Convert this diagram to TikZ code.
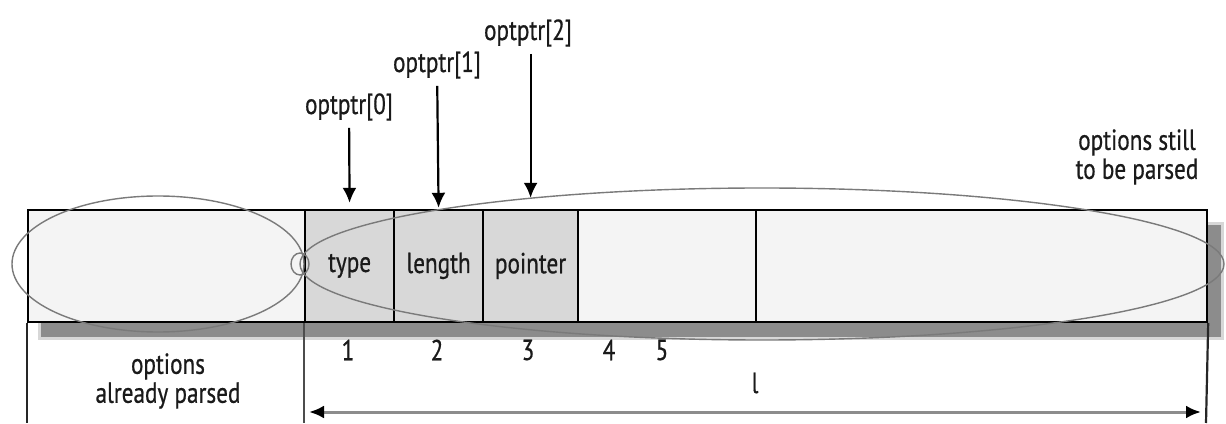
\documentclass[tikz,border=0pt]{standalone}
\usepackage{fontspec}
\setmainfont{PT Sans}[FakeStretch=0.8, FakeBold=0.6]
\usepackage{tikz}
\usetikzlibrary{arrows.meta, positioning, shapes.geometric}
\definecolor{cellgray}{HTML}{D8D8D8}
\definecolor{lightfill}{HTML}{F4F4F4}
\definecolor{ellgray}{HTML}{7A7A7A}
\definecolor{shadegray}{HTML}{8C8C8C}
\definecolor{txt}{HTML}{1A1A1A}

\begin{document}
\begin{tikzpicture}[
    x=1pt, y=1pt,
    font        = \fontsize{29}{29}\selectfont,
    text        = txt,
    cell/.style = {draw, line width=2.2pt, minimum height=112pt,
                   inner sep=0pt, anchor=south west},
    oval/.style = {draw=ellgray, line width=1.4pt, ellipse, inner sep=0pt},
    lbl/.style  = {inner sep=1pt, align=center},
    ptrarr/.style = {-{Latex[length=15pt, width=14pt]}, line width=2.2pt,
                     shorten <=6pt},
    sepline/.style = {line width=2.2pt, black!70},
    lenarr/.style  = {{Latex[length=15pt, width=13pt, color=black]}-{Latex[length=15pt, width=13pt, color=black]},
                      line width=3pt, black!45},
  ]
  \useasboundingbox (0,0) rectangle (1226,423);
  % drop shadow of the option buffer
  \fill[shadegray, opacity=.35] (38,83) rectangle (1224,201);
  \fill[shadegray] (41,86) rectangle (1221,198);

  \node[cell, fill=lightfill, minimum width=277pt] (done) at (27,100) {};
  \node[cell, fill=cellgray, minimum width=89pt] (type) at (304,100) {type};
  \node[cell, fill=cellgray, minimum width=89pt] (len) at (393,100) {length};
  \node[cell, fill=cellgray, minimum width=95pt] (ptr) at (482,100) {pointer};
  \node[cell, fill=lightfill, minimum width=178pt] (free) at (577,100) {};
  \node[cell, fill=lightfill, minimum width=451pt] (rest) at (755,100) {};

  % parsed / unparsed regions
  \node[oval, minimum width=292pt, minimum height=136pt] (doneov) at (158,159) {};
  \node[oval, minimum width=924pt, minimum height=152pt] (restov) at (762,159) {};
  \node[oval, minimum width=18pt, minimum height=22pt] (tip) at (300,159) {};

  \node[lbl] (p0) at (349,316) {optptr[0]};
  \node[lbl] (p1) at (437,358) {optptr[1]};
  \node[lbl] (p2) at (528,390) {optptr[2]};
  \draw[ptrarr, shorten >=6pt] (p0) -- (type.north);
  \draw[ptrarr, shorten >=1pt] (p1) -- (len.north);
  \draw[ptrarr, shorten >=11pt] (p2.south -| ptr.north) -- (ptr.north);

  \node[lbl] (n1) at (348,73) {1};
  \node[lbl] (n2) at (437,73) {2};
  \node[lbl] (n3) at (528,73) {3};
  \node[lbl] (n4) at (609,73) {4};
  \node[lbl] (n5) at (662,73) {5};
  \node[lbl] (nl) at (755,40) {l};

  \node[lbl] (olddesc) at (168,42) {options\\already parsed};
  \node[lbl] (newdesc) at (1137,266) {options still\\to be parsed};

  % buffer limits below the cells
  \coordinate (b0) at (27,0);
  \coordinate (b1) at (304,0);
  \coordinate (b2) at (1206,0);
  \draw[line width=2.2pt, black!85] (done.south west) -- (b0);
  \draw[sepline] (type.south west) -- (b1);
  \draw[line width=2.2pt, black!85] (rest.south east) -- (b2);

  \coordinate (lenL) at (309,11);
  \coordinate (lenR) at (1201,11);
  \draw[lenarr] (lenL) -- (lenR);
\end{tikzpicture}
\end{document}
